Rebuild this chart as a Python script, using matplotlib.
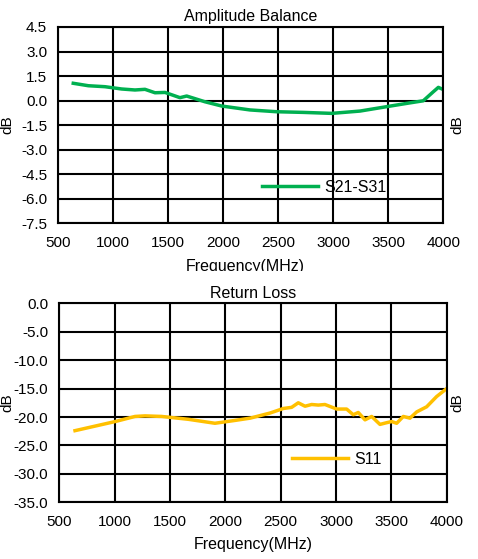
import matplotlib
matplotlib.use("Agg")
import matplotlib.pyplot as plt
from matplotlib.patches import Rectangle

plt.rcParams['font.family'] = ['Liberation Sans', 'DejaVu Sans']

# ---- data ----
ab_freq = [636, 773, 925, 1076, 1197, 1288, 1379, 1470, 1606, 1667, 1833, 1985,
           2242, 2485, 2727, 2985, 3242, 3485, 3667, 3818, 3909, 3955, 3985]
ab_vals = [1.06, 0.91, 0.85, 0.71, 0.65, 0.69, 0.48, 0.50, 0.18, 0.28, -0.07, -0.33,
           -0.57, -0.68, -0.72, -0.78, -0.64, -0.37, -0.17, -0.01, 0.54, 0.81, 0.72]

rl_freq = [642, 1004, 1184, 1274, 1425, 1665, 1906, 2087, 2224, 2404, 2524, 2599,
           2659, 2720, 2780, 2840, 2900, 3006, 3096, 3156, 3201, 3262, 3322, 3397,
           3457, 3503, 3548, 3608, 3668, 3729, 3819, 3909, 4000]
rl_vals = [-22.4, -20.8, -19.9, -19.8, -19.9, -20.4, -21.1, -20.6, -20.2, -19.3, -18.5, -18.3,
           -17.5, -18.1, -17.8, -17.9, -17.8, -18.6, -18.6, -19.6, -19.2, -20.5, -19.9, -21.3,
           -21.0, -20.8, -21.1, -19.9, -20.2, -19.1, -18.2, -16.4, -15.0]

x_ticks = [500, 1000, 1500, 2000, 2500, 3000, 3500, 4000]
ab_yticks = [4.5, 3.0, 1.5, 0.0, -1.5, -3.0, -4.5, -6.0, -7.5]
rl_yticks = [0.0, -5.0, -10.0, -15.0, -20.0, -25.0, -30.0, -35.0]

W, H = 478, 559
fig = plt.figure(figsize=(W / 100, H / 100), dpi=100)

FS = 11
TFS = 11.5

def make_axes(rect, yticks, title):
    ax = fig.add_axes(rect)
    ax.set_xlim(500, 4000)
    ax.set_ylim(min(yticks), max(yticks))
    ax.set_xticks(x_ticks)
    ax.set_xticklabels([str(t) for t in x_ticks], fontsize=FS)
    ax.set_yticks(yticks)
    ax.set_yticklabels([f"{t:.1f}" for t in yticks], fontsize=FS)
    ax.tick_params(length=0, pad=8)
    ax.tick_params(axis='x', pad=9)
    ax.grid(True, color='black', linewidth=1.5)
    for s in ax.spines.values():
        s.set_linewidth(1.5)
        s.set_color('black')
    ax.set_title(title, fontsize=TFS, pad=4)
    return ax

ax1 = make_axes([58.3 / W, (H - 223.3) / H, 385 / W, 196.3 / H], ab_yticks, "Amplitude Balance")
ax1.plot(ab_freq, ab_vals, color='#00B050', linewidth=2.5, label='S21-S31')
ax1.legend(loc='center left', bbox_to_anchor=(262 / W, 1 - 187.3 / H),
           bbox_transform=fig.transFigure, frameon=False, fontsize=TFS,
           handlelength=3.5, handletextpad=0.4, borderpad=0, borderaxespad=0)

ax2 = make_axes([59.3 / W, (H - 502.3) / H, 387.4 / W, 199 / H], rl_yticks, "Return Loss")
ax2.plot(rl_freq, rl_vals, color='#FFC000', linewidth=2.5, label='S11')
ax2.legend(loc='center left', bbox_to_anchor=(292 / W, 1 - 459 / H),
           bbox_transform=fig.transFigure, frameon=False, fontsize=TFS,
           handlelength=3.5, handletextpad=0.4, borderpad=0, borderaxespad=0)
ax2.set_xlabel("Frequency(MHz)", fontsize=TFS, labelpad=6)

# top chart x label (lower part hidden in the reference)
fig.text(245 / W, 1 - 266.5 / H, "Frequency(MHz)", fontsize=TFS, ha='center', va='center')
fig.patches.append(Rectangle((0, 1 - 280 / H), 1, 9.5 / H, transform=fig.transFigure,
                             facecolor='white', edgecolor='none', zorder=10))

# dB labels
for yc in (125, 403):
    fig.text(457 / W, 1 - yc / H, "dB", fontsize=FS, rotation=90, ha='center', va='center')
    fig.text(7 / W, 1 - yc / H, "dB", fontsize=FS, rotation=90, ha='center', va='center')

fig.savefig("out.png", dpi=100)
